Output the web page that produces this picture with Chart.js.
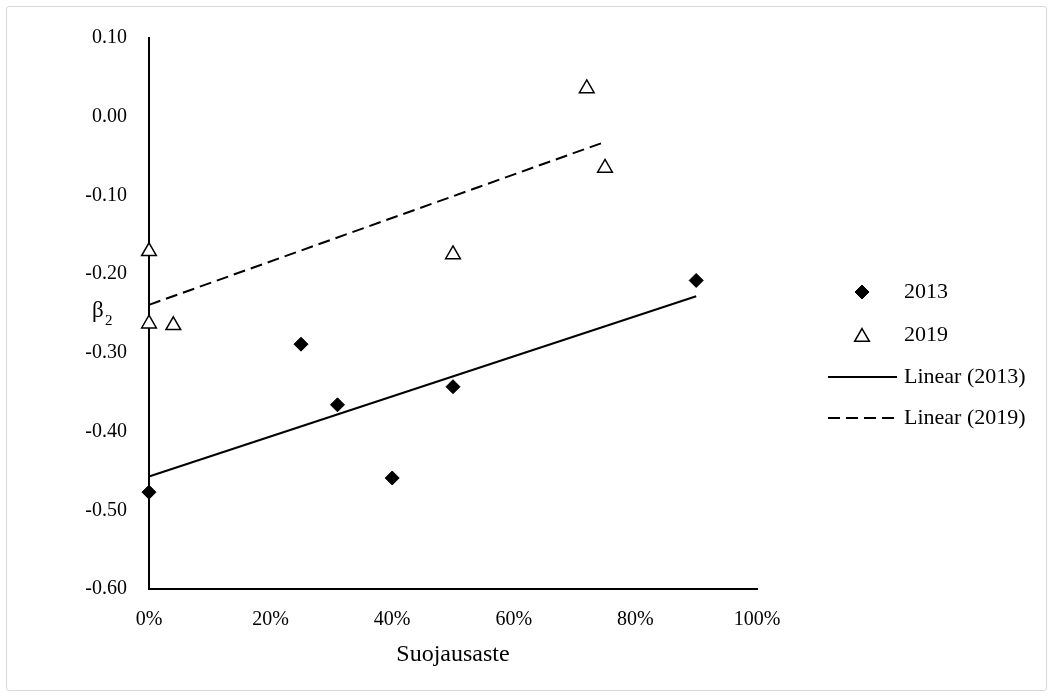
<!DOCTYPE html>
<html>
<head>
<meta charset="utf-8">
<script src="https://cdn.jsdelivr.net/npm/chart.js@4.4.1/dist/chart.umd.min.js"></script>
<style>
  body { margin: 0; background: #fff; }
  #wrap { position: relative; width: 1053px; height: 697px; }
  #frame { position: absolute; left: 6px; top: 6px; width: 1039px; height: 683px;
           border: 1.5px solid #d9d9d9; border-radius: 3px; pointer-events: none; }
</style>
</head>
<body>
<div id="wrap">
  <canvas id="myChart" width="1053" height="697"></canvas>
  <div id="frame"></div>
</div>
<script>
// Values
const x2013 = [0, 0.25, 0.31, 0.40, 0.50, 0.90];
const y2013 = [-0.477, -0.289, -0.366, -0.459, -0.343, -0.208];
const x2019 = [0, 0, 0.04, 0.50, 0.72, 0.75];
const y2019 = [-0.171, -0.263, -0.265, -0.175, 0.036, -0.065];

// trendline end points (Excel "Linear" trendlines)
const trendX2013 = [0, 0.90];
const trendY2013 = [-0.457, -0.228];
const trendX2019 = [0, 0.75];
const trendY2019 = [-0.239, -0.032];

const xTicks = [0, 0.2, 0.4, 0.6, 0.8, 1.0];
const yTicks = [-0.6, -0.5, -0.4, -0.3, -0.2, -0.1, 0, 0.1];

const seriesNames = ['2013', '2019', 'Linear (2013)', 'Linear (2019)'];
const xTitle = 'Suojausaste';

const serif = "'Liberation Serif', 'Times New Roman', serif";

function toPoints(xs, ys){
    var pts = [];
    for(var i = 0; i < xs.length; i++){
        pts.push({x: xs[i], y: ys[i]});
    }
    return pts;
}

// y axis title (upright beta with subscript) and the legend on the right
const extras = {
    id: 'extras',
    afterDraw(chart){
        const ctx = chart.ctx;
        ctx.save();
        ctx.fillStyle = '#000';
        ctx.strokeStyle = '#000';
        ctx.textBaseline = 'middle';
        ctx.font = '23px ' + serif;
        ctx.fillText('β', 92, 311);
        ctx.font = '15px ' + serif;
        ctx.fillText('2', 105, 321);

        const rows = [292, 335, 377, 418];
        const mx = 862;
        const ds = chart.data.datasets;
        for(var i = 0; i < ds.length; i++){
            const d = ds[i];
            const y = rows[i];
            ctx.save();
            if(d.showLine){
                ctx.lineWidth = d.borderWidth;
                ctx.setLineDash(d.borderDash || []);
                ctx.beginPath();
                ctx.moveTo(828, y);
                ctx.lineTo(897, y);
                ctx.stroke();
            }else{
                ctx.fillStyle = d.backgroundColor;
                ctx.strokeStyle = d.borderColor;
                ctx.lineWidth = d.borderWidth;
                Chart.helpers.drawPoint(ctx, {
                    pointStyle: d.pointStyle,
                    radius: d.pointRadius,
                    rotation: 0,
                    borderWidth: d.borderWidth
                }, mx, d.pointStyle === 'triangle' ? y + 2 : y);
            }
            ctx.restore();
            ctx.font = '22px ' + serif;
            ctx.fillText(d.label, 904, y);
        }
        ctx.restore();
    }
};

const ctx = document.getElementById('myChart').getContext('2d');
const myChart = new Chart(ctx, {
    type: 'scatter',
    data: {
        datasets: [{
            label: seriesNames[0],
            data: toPoints(x2013, y2013),
            pointStyle: 'rectRot',
            pointRadius: 7,
            backgroundColor: '#000',
            borderColor: '#000',
            borderWidth: 1,
            clip: false
        }, {
            label: seriesNames[1],
            data: toPoints(x2019, y2019),
            pointStyle: 'triangle',
            pointRadius: 8.5,
            backgroundColor: '#fff',
            borderColor: '#000',
            borderWidth: 1.5,
            clip: false
        }, {
            label: seriesNames[2],
            data: toPoints(trendX2013, trendY2013),
            showLine: true,
            pointRadius: 0,
            borderColor: '#000',
            borderWidth: 2,
            clip: false
        }, {
            label: seriesNames[3],
            data: toPoints(trendX2019, trendY2019),
            showLine: true,
            pointRadius: 0,
            borderColor: '#000',
            borderWidth: 2,
            borderDash: [12, 6],
            clip: false
        }]
    },
    options: {
        responsive: false,
        animation: false,
        layout: { padding: { top: 38, right: 296, bottom: 0, left: 0 } },
        plugins: {
            legend: { display: false },
            tooltip: { enabled: false }
        },
        scales: {
            x: {
                type: 'linear',
                min: 0,
                max: 1,
                afterBuildTicks: function(scale){
                    scale.ticks = xTicks.map(v => ({value: v}));
                },
                afterFit: function(scale){ scale.height = 108; },
                grid: { display: false, drawTicks: false },
                border: { display: true, color: '#000', width: 2 },
                ticks: {
                    padding: 19,
                    color: '#000',
                    font: { family: serif, size: 20 },
                    callback: v => Math.round(v * 100) + '%'
                },
                title: {
                    display: true,
                    text: xTitle,
                    color: '#000',
                    font: { family: serif, size: 24 },
                    padding: { top: 0, bottom: 28 }
                }
            },
            y: {
                type: 'linear',
                min: -0.6,
                max: 0.1,
                afterBuildTicks: function(scale){
                    scale.ticks = yTicks.map(v => ({value: v}));
                },
                afterFit: function(scale){ scale.width = 149; },
                grid: { display: false, drawTicks: false },
                border: { display: true, color: '#000', width: 2 },
                ticks: {
                    padding: 22,
                    color: '#000',
                    font: { family: serif, size: 20 },
                    callback: v => v.toFixed(2)
                }
            }
        }
    },
    plugins: [extras]
});
</script>
</body>
</html>
